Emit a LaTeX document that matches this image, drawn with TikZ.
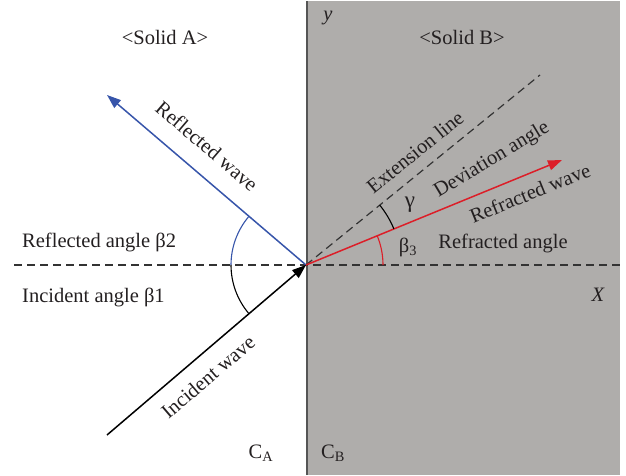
\documentclass[tikz,border=0pt]{standalone}
\usepackage{fontspec}
\setmainfont{Liberation Serif}
\usetikzlibrary{arrows.meta}
\definecolor{solidgrey}{RGB}{175,173,171}
\definecolor{edgegrey}{RGB}{85,85,85}
\definecolor{wblue}{RGB}{55,85,170}
\definecolor{wred}{RGB}{220,30,40}
\definecolor{txt}{RGB}{35,31,32}
\begin{document}
\begin{tikzpicture}[x=1pt,y=1pt,
  lbl/.style={font=\fontsize{20.5}{24}\selectfont, text=txt, inner sep=0pt},
  wave/.style={line width=1.5pt},
  tip/.style={-{Triangle[length=14pt,width=10pt]}},
  dashline/.style={line width=1.2pt, dash pattern=on 8pt off 5pt},
  anglearc/.style={line width=1.1pt}]
\useasboundingbox (0,0) rectangle (626,475);
\fill[solidgrey] (306,0) rectangle (620,474);
\draw[edgegrey, line width=2pt] (306.5,0) -- (306.5,474);
% coordinates
\coordinate (O) at (306,210);
\coordinate (inc) at (107,40);
\coordinate (refl) at (107,380);
\coordinate (refr) at (562,315);
\coordinate (ext) at (540,400);
\coordinate (hl) at (14,210);
\coordinate (hr) at (620,210);
% horizontal and extension dashed lines
\draw[dashline, black!80] (hl) -- (hr);
\draw[dashline, black!80] (O) -- (ext);
% waves
\draw[wave, wblue, tip] (O) -- (refl);
\draw[wave, wred, tip] (O) -- (refr);
\draw[wave, black, tip] (inc) -- (O);
% arcs
\draw[anglearc, wblue] ([shift={(139.5:75)}]O) arc[start angle=139.5, end angle=180, radius=75];
\draw[anglearc, black] ([shift={(180:75)}]O) arc[start angle=180, end angle=220.5, radius=75];
\draw[anglearc, wred] ([shift={(0:77)}]O) arc[start angle=0, end angle=22.3, radius=77];
\draw[anglearc, black] ([shift={(22.3:95)}]O) arc[start angle=22.3, end angle=39.2, radius=95];
% labels
\node[lbl] (sa) at (165,438) {<Solid A>};
\node[lbl] (sb) at (462,438) {<Solid B>};
\node[lbl, font=\fontsize{20.5}{24}\selectfont\itshape] (ylab) at (328,457) {y};
\node[lbl, font=\fontsize{20.5}{24}\selectfont\itshape] (xlab) at (598,180) {X};
\node[lbl, anchor=west] (rab) at (22,233) {Reflected angle β2};
\node[lbl, anchor=west] (iab) at (22,178) {Incident angle β1};
\node[lbl, rotate=-40.5] (rw) at (207,329) {Reflected wave};
\node[lbl, rotate=40.5] (iw) at (208,98) {Incident wave};
\node[lbl, rotate=39] (el) at (415,323) {Extension line};
\node[lbl, rotate=31] (da) at (492,315) {Deviation angle};
\node[lbl, rotate=22] (rfw) at (530,282) {Refracted wave};
\node[lbl] (rfa) at (503,232) {Refracted angle};
\node[lbl, font=\fontsize{23}{26}\selectfont] (gam) at (410,270) {γ};
\node[lbl] (b3) at (408,228) {β\textsubscript{3}};
\node[lbl] (ca) at (261,22) {C\textsubscript{A}};
\node[lbl] (cb) at (333,22) {C\textsubscript{B}};
\end{tikzpicture}
\end{document}
